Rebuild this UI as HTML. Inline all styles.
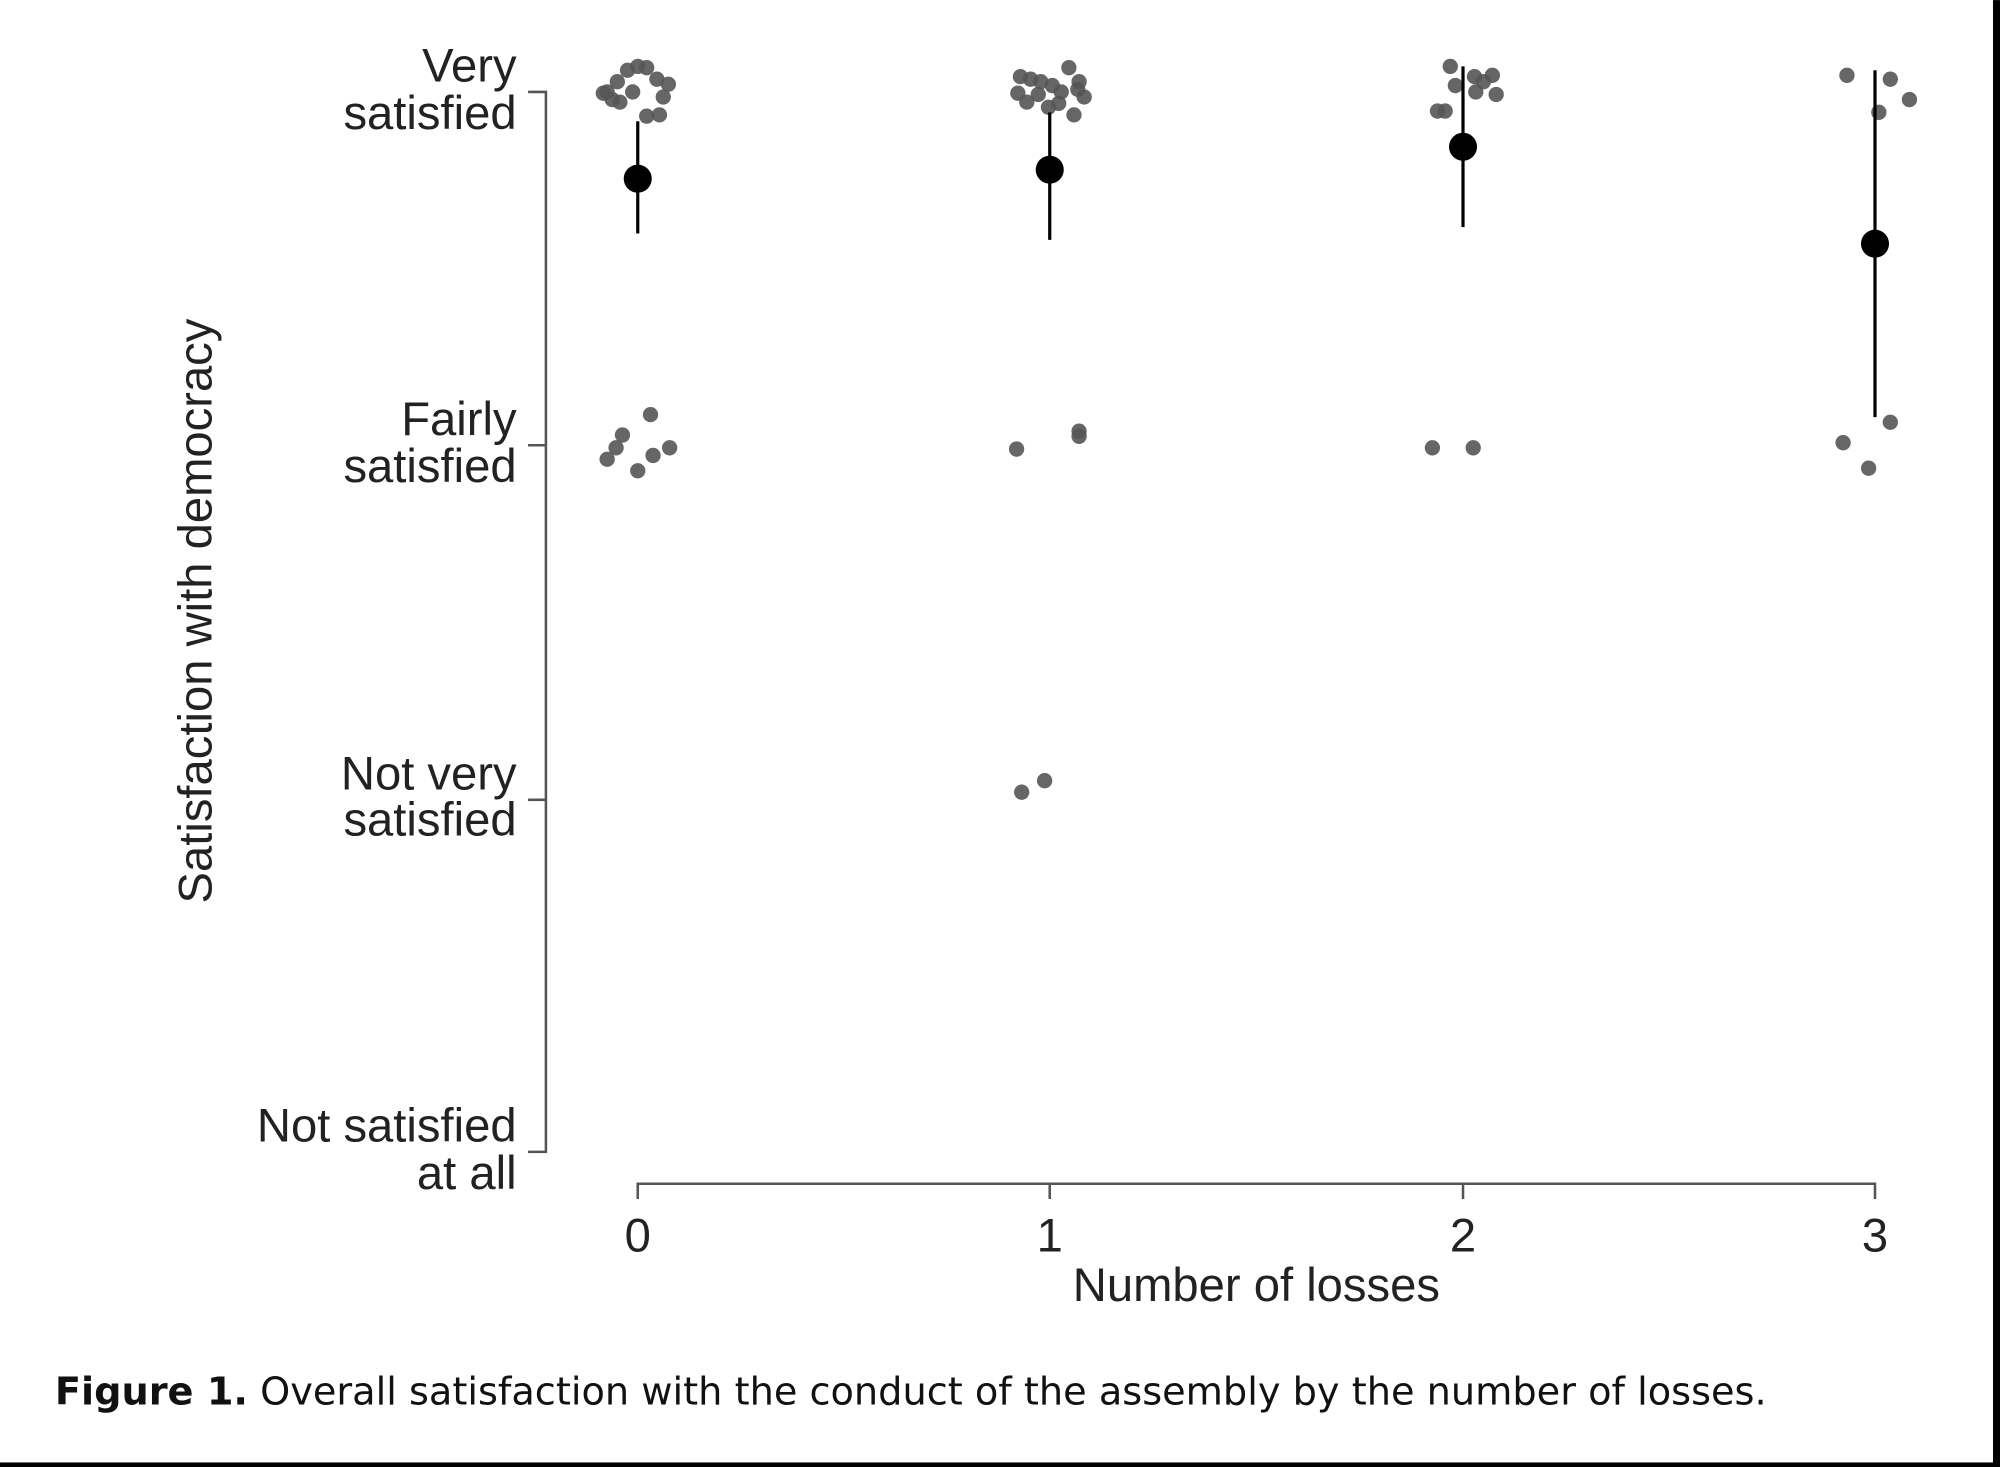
<!DOCTYPE html>
<html><head><style>html,body{margin:0;padding:0;background:#fff}svg{display:block}</style></head>
<body>
<svg width="2000" height="1467" viewBox="0 0 1568 1150" xmlns="http://www.w3.org/2000/svg" font-family="Liberation Sans, sans-serif">
<rect width="1568" height="1150" fill="#fff"/>
<rect x="1562.5" y="0" width="6" height="1150" fill="#000"/>
<rect x="0" y="1146.5" width="1568" height="4" fill="#000"/>
<g stroke="#555" stroke-width="2" fill="none">
<path d="M414 72H428V903H414M414 349H428M414 627H428"/>
<path d="M500 940V928H1470V940M823 928V940M1147 928V940"/>
</g>
<g font-size="37" fill="#222" text-anchor="end">
<text x="405" y="64">Very</text><text x="405" y="101">satisfied</text>
<text x="405" y="341">Fairly</text><text x="405" y="378">satisfied</text>
<text x="405" y="619">Not very</text><text x="405" y="655">satisfied</text>
<text x="405" y="895">Not satisfied</text><text x="405" y="932">at all</text>
</g>
<g font-size="37" fill="#222" text-anchor="middle">
<text x="500" y="981">0</text><text x="823" y="981">1</text><text x="1147" y="981">2</text><text x="1470" y="981">3</text>
<text x="985" y="1020">Number of losses</text>
<text transform="translate(166,479) rotate(-90)">Satisfaction with democracy</text>
</g>
<text x="43" y="1101" font-size="30" fill="#111" font-family="DejaVu Sans, sans-serif"><tspan font-weight="bold">Figure 1.</tspan> Overall satisfaction with the conduct of the assembly by the number of losses.</text>
<g fill="#555" fill-opacity="0.9">
<circle cx="476" cy="72" r="6"/><circle cx="484" cy="64" r="6"/><circle cx="492" cy="55" r="6"/><circle cx="500" cy="52" r="6"/><circle cx="507" cy="53" r="6"/><circle cx="515" cy="62" r="6"/><circle cx="524" cy="66" r="6"/><circle cx="520" cy="76" r="6"/><circle cx="486" cy="80" r="6"/><circle cx="496" cy="72" r="6"/><circle cx="507" cy="91" r="6"/><circle cx="517" cy="90" r="6"/><circle cx="473" cy="73" r="6"/><circle cx="480" cy="78" r="6"/>
<circle cx="476" cy="360" r="6"/><circle cx="483" cy="351" r="6"/><circle cx="488" cy="341" r="6"/><circle cx="500" cy="369" r="6"/><circle cx="510" cy="325" r="6"/><circle cx="512" cy="357" r="6"/><circle cx="525" cy="351" r="6"/>
<circle cx="800" cy="60" r="6"/><circle cx="808" cy="62" r="6"/><circle cx="816" cy="64" r="6"/><circle cx="798" cy="73" r="6"/><circle cx="805" cy="80" r="6"/><circle cx="814" cy="74" r="6"/><circle cx="825" cy="67" r="6"/><circle cx="832" cy="72" r="6"/><circle cx="838" cy="53" r="6"/><circle cx="846" cy="64" r="6"/><circle cx="850" cy="76" r="6"/><circle cx="842" cy="90" r="6"/><circle cx="830" cy="81" r="6"/><circle cx="822" cy="84" r="6"/><circle cx="845" cy="70" r="6"/>
<circle cx="797" cy="352" r="6"/><circle cx="846" cy="338" r="6"/><circle cx="846" cy="342" r="6"/>
<circle cx="801" cy="621" r="6"/><circle cx="819" cy="612" r="6"/>
<circle cx="1137" cy="52" r="6"/><circle cx="1141" cy="67" r="6"/><circle cx="1156" cy="60" r="6"/><circle cx="1163" cy="64" r="6"/><circle cx="1170" cy="59" r="6"/><circle cx="1157" cy="72" r="6"/><circle cx="1173" cy="74" r="6"/><circle cx="1127" cy="87" r="6"/><circle cx="1133" cy="87" r="6"/>
<circle cx="1123" cy="351" r="6"/><circle cx="1155" cy="351" r="6"/>
<circle cx="1448" cy="59" r="6"/><circle cx="1482" cy="62" r="6"/><circle cx="1497" cy="78" r="6"/><circle cx="1473" cy="88" r="6"/>
<circle cx="1445" cy="347" r="6"/><circle cx="1465" cy="367" r="6"/><circle cx="1482" cy="331" r="6"/>
</g>
<g stroke="#000" stroke-width="2.5">
<line x1="500" y1="95" x2="500" y2="183"/><line x1="823" y1="88" x2="823" y2="188"/><line x1="1147" y1="52" x2="1147" y2="178"/><line x1="1470" y1="55" x2="1470" y2="327"/>
</g>
<g fill="#000">
<circle cx="500" cy="140" r="11"/><circle cx="823" cy="133" r="11"/><circle cx="1147" cy="115" r="11"/><circle cx="1470" cy="191" r="11"/>
</g>
</svg>
</body></html>
